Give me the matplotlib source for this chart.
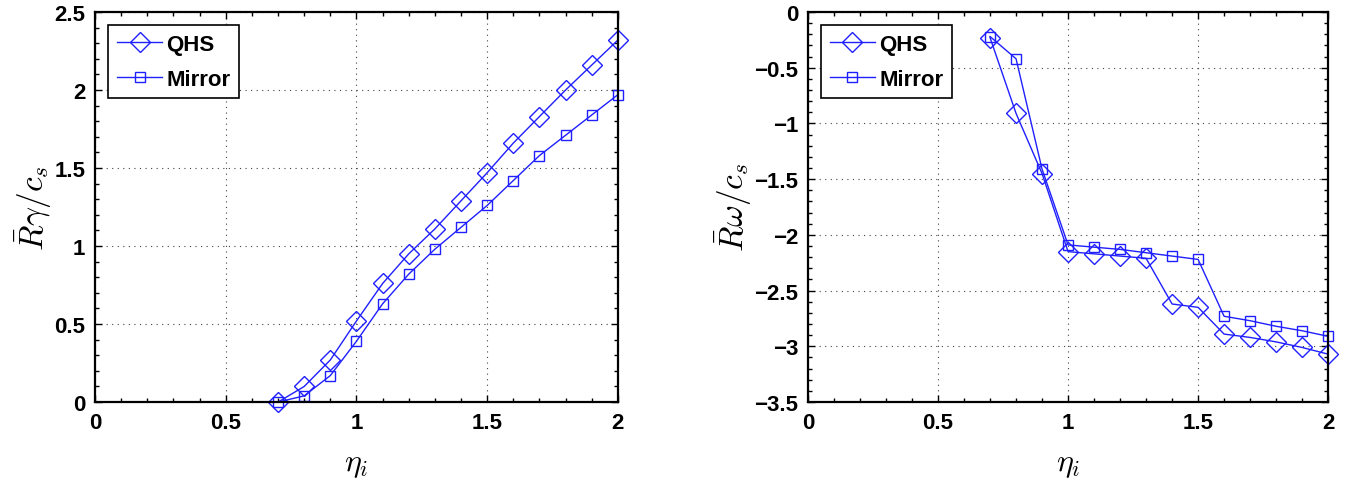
import numpy as np
import matplotlib
matplotlib.use('Agg')
import matplotlib.pyplot as plt
from matplotlib.ticker import MultipleLocator, FuncFormatter

eta = [0.7, 0.8, 0.9, 1.0, 1.1, 1.2, 1.3, 1.4, 1.5, 1.6, 1.7, 1.8, 1.9, 2.0]

gamma_qhs = [0.0, 0.10, 0.27, 0.52, 0.76, 0.95, 1.11, 1.29, 1.47, 1.66, 1.83, 2.00, 2.16, 2.32]
gamma_mirror = [0.0, 0.04, 0.17, 0.39, 0.63, 0.82, 0.98, 1.12, 1.26, 1.42, 1.58, 1.71, 1.84, 1.97]

omega_qhs = [-0.23, -0.91, -1.45, -2.15, -2.17, -2.19, -2.21, -2.62, -2.65, -2.89, -2.92, -2.96, -3.01, -3.07]
omega_mirror = [-0.22, -0.42, -1.41, -2.09, -2.11, -2.13, -2.16, -2.19, -2.22, -2.73, -2.77, -2.82, -2.86, -2.91]

plt.rcParams['font.family'] = ['Liberation Sans', 'DejaVu Sans']
plt.rcParams['mathtext.fontset'] = 'cm'

fig = plt.figure(figsize=(13.58, 4.81), dpi=100)
ax1 = fig.add_axes([0.0700, 0.162, 0.385, 0.811])
ax2 = fig.add_axes([0.595, 0.162, 0.383, 0.811])

blue = '#1f1fff'
fmt = FuncFormatter(lambda v, p: ('%g' % round(v, 3)).replace('-', '\u2212'))


def style(ax, ylim, ylabel):
    ax.set_xlim(0, 2)
    ax.set_ylim(*ylim)
    ax.xaxis.set_major_locator(MultipleLocator(0.5))
    ax.xaxis.set_minor_locator(MultipleLocator(0.1))
    ax.yaxis.set_major_locator(MultipleLocator(0.5))
    ax.yaxis.set_minor_locator(MultipleLocator(0.1))
    ax.xaxis.set_major_formatter(fmt)
    ax.yaxis.set_major_formatter(fmt)
    ax.tick_params(which='both', direction='in', top=True, right=True, width=1)
    ax.tick_params(which='major', length=5, labelsize=16, pad=7)
    ax.tick_params(which='minor', length=3)
    for lbl in ax.get_xticklabels() + ax.get_yticklabels():
        lbl.set_fontweight('bold')
    ax.grid(True, which='major', linestyle=(0, (1, 4)), color='#444444', linewidth=0.8)
    for sp in ax.spines.values():
        sp.set_linewidth(1.6)
    ax.set_xlabel(r'$\eta_i$', fontsize=23, labelpad=12)
    ax.set_ylabel(ylabel, fontsize=24, labelpad=0)
    leg = ax.legend(loc='upper left', fancybox=False, edgecolor='black', framealpha=1,
                    prop={'weight': 'bold', 'size': 16}, handlelength=2.0,
                    borderpad=0.4, labelspacing=0.6, handletextpad=0.2,
                    borderaxespad=0.6)
    leg.get_frame().set_linewidth(1.2)


ax1.plot(eta, gamma_qhs, '-', marker='D', color=blue, lw=1, ms=10,
         mfc='none', mew=1, label='QHS', clip_on=False)
ax1.plot(eta, gamma_mirror, '-', marker='s', color=blue, lw=1, ms=7,
         mfc='none', mew=1, label='Mirror', clip_on=False)
style(ax1, (0, 2.5), r'$\bar{R}\gamma/c_s$')

ax2.plot(eta, omega_qhs, '-', marker='D', color=blue, lw=1, ms=10,
         mfc='none', mew=1, label='QHS', clip_on=False)
ax2.plot(eta, omega_mirror, '-', marker='s', color=blue, lw=1, ms=7,
         mfc='none', mew=1, label='Mirror', clip_on=False)
style(ax2, (-3.5, 0), r'$\bar{R}\omega/c_s$')

fig.savefig('out.png', dpi=100)
